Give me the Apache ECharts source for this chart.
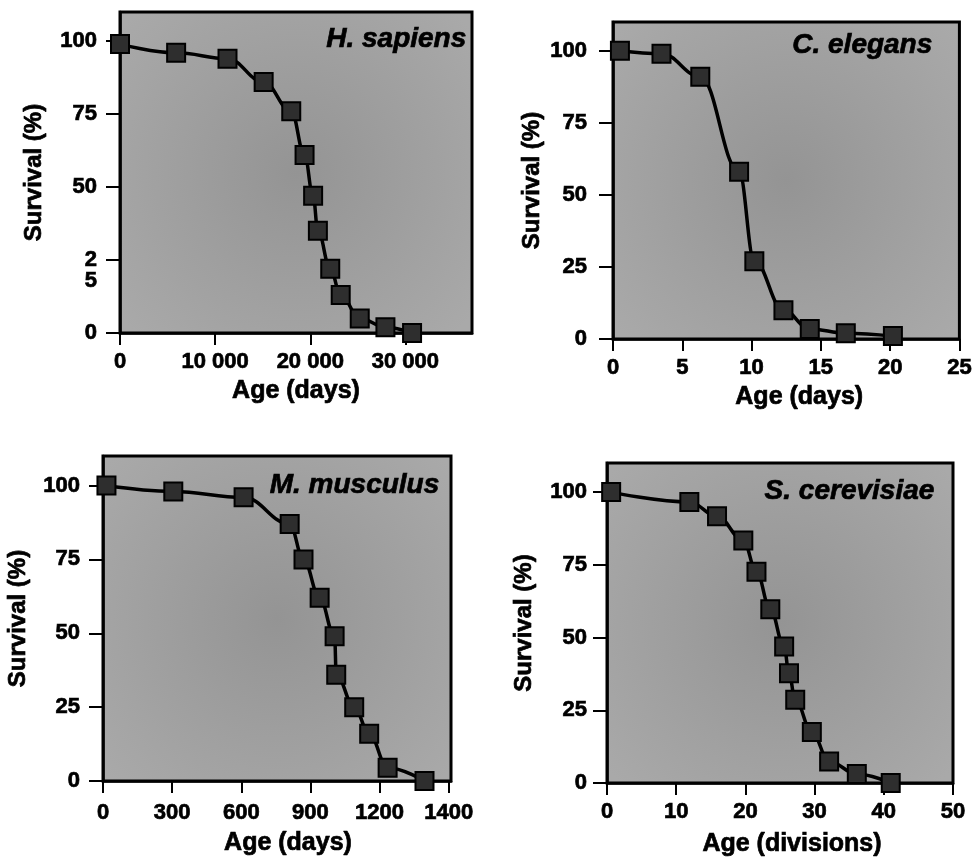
<!DOCTYPE html>
<html>
<head>
<meta charset="utf-8">
<script src="https://cdn.jsdelivr.net/npm/echarts@6/dist/echarts.min.js"></script>
<style>html,body{margin:0;padding:0;background:#fff;}#c{width:975px;height:864px;}</style>
</head>
<body>
<div id="c"></div>
<script>
// ---- data ----
const panelTitles = ['H. sapiens', 'C. elegans', 'M. musculus', 'S. cerevisiae'];
const xAxisNames = ['Age (days)', 'Age (days)', 'Age (days)', 'Age (divisions)'];
const yAxisName = 'Survival (%)';

const hsAge  = [0, 5900, 11300, 15100, 18000, 19400, 20300, 20800, 22100, 23200, 25200, 27900, 30700];
const hsSurv = [99, 96, 94, 86, 76, 61, 47, 35, 22, 13, 5, 2, 0];

const ceAge  = [0.5, 3.5, 6.3, 9.1, 10.2, 12.3, 14.2, 16.8, 20.2];
const ceSurv = [100, 99, 91, 58, 27, 10, 3.5, 2, 1];

const mmAge  = [15, 305, 610, 810, 870, 940, 1005, 1012, 1090, 1155, 1235, 1395];
const mmSurv = [100, 98, 96, 87, 75, 62, 49, 36, 25, 16, 4.5, 0];

const scAge  = [0.6, 11.9, 15.9, 19.7, 21.6, 23.6, 25.6, 26.3, 27.2, 29.6, 32.1, 36.1, 41];
const scSurv = [100, 96.6, 91.7, 83.4, 72.6, 59.7, 46.9, 37.7, 28.6, 17.5, 7.4, 3.1, 0];

// tick values and their printed labels
const yTicks = [0, 25, 50, 75, 100];
const yTickLabelsHs = ['0', ' \n2\n5', '50', '75', '100'];
const yTickLabels = ['0', '25', '50', '75', '100'];
const hsXTicks = [0, 10000, 20000, 30000];
const hsXLabels = ['0', '10 000', '20 000', '30 000'];
const ceXTicks = [0, 5, 10, 15, 20, 25];
const ceXLabels = ['0', '5', '10', '15', '20', '25'];
const mmXTicks = [0, 300, 600, 900, 1200, 1500];
const mmXLabels = ['0', '300', '600', '900', '1200', '1400'];
const scXTicks = [0, 10, 20, 30, 40, 50];
const scXLabels = ['0', '10', '20', '30', '40', '50'];

// ---- layout ----
const FONT = '"Liberation Sans", Arial, Helvetica, sans-serif';
const panels = [
  {age: hsAge, surv: hsSurv, xt: hsXTicks, xl: hsXLabels, yl: yTickLabelsHs, xmin: 0, xmax: 37000,
   grid: {left: 120, top: 12, width: 352, height: 321}, yMargin: 23, yNameGap: 74, xMargin: 18, xNameGap: 46, xNamePad: 0,
   title: {right: 508, top: 25}},
  {age: ceAge, surv: ceSurv, xt: ceXTicks, xl: ceXLabels, yl: yTickLabels, xmin: 0, xmax: 25,
   grid: {left: 613, top: 22, width: 348, height: 317}, yMargin: 26, yNameGap: 69, xMargin: 18, xNameGap: 46, xNamePad: 26,
   title: {right: 42, top: 31}},
  {age: mmAge, surv: mmSurv, xt: mmXTicks, xl: mmXLabels, yl: yTickLabels, xmin: 0, xmax: 1510,
   grid: {left: 103, top: 456, width: 348, height: 325}, yMargin: 23, yNameGap: 73, xMargin: 21, xNameGap: 50, xNamePad: 22,
   title: {right: 535, top: 471}},
  {age: scAge, surv: scSurv, xt: scXTicks, xl: scXLabels, yl: yTickLabels, xmin: 0, xmax: 50,
   grid: {left: 607, top: 463, width: 346, height: 320}, yMargin: 20, yNameGap: 71, xMargin: 18, xNameGap: 49, xNamePad: 24,
   title: {right: 40, top: 477}}
];

const bg = new echarts.graphic.RadialGradient(0.5, 0.5, 0.7, [
  {offset: 0, color: '#949494'},
  {offset: 1, color: '#a9a9a9'}
]);

const heavy = {textBorderColor: '#000', textBorderWidth: 0.7};

const option = {
  animation: false,
  backgroundColor: '#ffffff',
  title: panels.map((p, i) => ({
    text: panelTitles[i], right: p.title.right, top: p.title.top, padding: 0,
    textStyle: Object.assign({fontFamily: FONT, fontSize: 28, fontWeight: 'bold', fontStyle: 'italic', color: '#000'}, heavy)
  })),
  grid: panels.map(p => Object.assign({
    show: true, backgroundColor: bg, borderColor: '#000', borderWidth: 3, containLabel: false
  }, p.grid)),
  xAxis: panels.map((p, i) => ({
    type: 'value', gridIndex: i, min: p.xmin, max: p.xmax,
    name: xAxisNames[i], nameLocation: 'middle', nameGap: p.xNameGap,
    nameTextStyle: Object.assign({fontFamily: FONT, fontSize: 25, fontWeight: 'bold', color: '#000', padding: [0, 0, 0, p.xNamePad]}, heavy),
    axisLine: {show: true, onZero: false, lineStyle: {color: '#000', width: 2.5}},
    axisTick: {show: true, inside: false, length: 12, customValues: p.xt, lineStyle: {color: '#000', width: 2}},
    axisLabel: Object.assign({customValues: p.xt, formatter: v => p.xl[p.xt.indexOf(v)], margin: p.xMargin,
      fontFamily: FONT, fontSize: 22, fontWeight: 'bold', color: '#000'}, heavy),
    splitLine: {show: false}
  })),
  yAxis: panels.map((p, i) => ({
    type: 'value', gridIndex: i, min: 0, max: 110,
    name: yAxisName, nameLocation: 'middle', nameGap: p.yNameGap,
    nameTextStyle: Object.assign({fontFamily: FONT, fontSize: 24, fontWeight: 'bold', color: '#000'}, heavy),
    axisLine: {show: true, onZero: false, lineStyle: {color: '#000', width: 2.5}},
    axisTick: {show: true, inside: false, length: 14, customValues: yTicks, lineStyle: {color: '#000', width: 2}},
    axisLabel: Object.assign({customValues: yTicks, formatter: v => p.yl[yTicks.indexOf(v)], margin: p.yMargin,
      fontFamily: FONT, fontSize: 22, fontWeight: 'bold', color: '#000', lineHeight: 21}, heavy),
    splitLine: {show: false}
  })),
  series: panels.map((p, i) => ({
    type: 'line', xAxisIndex: i, yAxisIndex: i,
    data: p.age.map((a, j) => [a, p.surv[j]]),
    smooth: 0.4, smoothMonotone: 'x', clip: false,
    symbol: 'rect', symbolSize: 18,
    itemStyle: {color: '#2e2e2e', borderColor: '#000', borderWidth: 2},
    lineStyle: {color: '#000', width: 3.5}
  }))
};

const chart = echarts.init(document.getElementById('c'), null, {renderer: 'canvas'});
chart.setOption(option);
</script>
</body>
</html>
